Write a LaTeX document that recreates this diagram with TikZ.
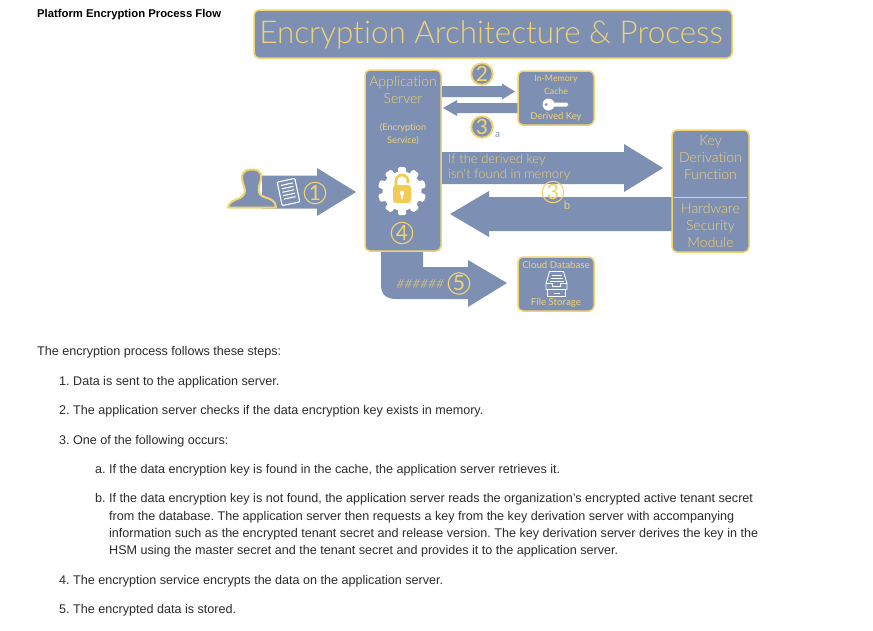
\documentclass[tikz,border=0pt]{standalone}
\usepackage{fontspec}
\setmainfont{Liberation Sans}
\newfontfamily\dfont[Ligatures=NoCommon]{Lato Light}
\newfontfamily\dreg[Ligatures=NoCommon]{Lato}
\definecolor{bluefill}{HTML}{7E8FB4}
\definecolor{goldline}{HTML}{F3D36B}
\definecolor{goldtext}{HTML}{EFD272}
\definecolor{lockgold}{HTML}{F2CB55}
\definecolor{bodytext}{HTML}{2B2B2B}
\newcommand{\rightarrowshape}[7]{% x0,tip,base,cy,bodyhalf,headhalf,name
  \fill[bluefill] (#1,#4-#5) -- (#3,#4-#5) -- (#3,#4-#6) -- (#2,#4) -- (#3,#4+#6) -- (#3,#4+#5) -- (#1,#4+#5) -- cycle;
  \coordinate (#7) at (#2,#4);}
\tikzset{
  x=1pt,y=-1pt,
  panel/.style={draw=goldline,line width=1.5pt,fill=bluefill,rounded corners=5pt},
  lab/.style={font=\dfont,text=goldtext,align=center,inner sep=0pt},
  numring/.style={circle,draw=goldline,line width=1.8pt,fill=bluefill,minimum size=21.5pt,inner sep=0pt,font=\dreg\fontsize{21}{21}\selectfont,text=goldline},
  thinring/.style={numring,fill=none,line width=1.1pt},
  bodyline/.style={anchor=base west,inner sep=0pt,font=\frenchspacing\fontsize{12.58}{12.58}\selectfont,text=bodytext},
}
\begin{document}
\begin{tikzpicture}
\useasboundingbox (0,0) rectangle (873,630);
% title
\draw[panel] (254,10) rectangle (732,58);
\node[lab,font=\dfont\fontsize{31.4}{33}\selectfont] (title) at (491,35) {Encryption Architecture \& Process};
% arrows
\rightarrowshape{441}{515}{502}{91.5}{5.5}{8}{tipb}
\fill[bluefill] (519,103) -- (457,103) -- (457,100) -- (443,108) -- (457,116) -- (457,113) -- (519,113) -- cycle;
\rightarrowshape{441}{663}{624}{168}{16}{24}{tipc}
\fill[bluefill] (673,197) -- (489,197) -- (489,191) -- (450,214) -- (489,237) -- (489,231) -- (673,231) -- cycle;
\rightarrowshape{262}{356}{317}{192}{16.5}{24}{tipa}
\fill[bluefill] (381,250) -- (381,285) .. controls (381,295) and (387,299) .. (396,299) -- (468,299) -- (468,307) -- (507,283) -- (468,260) -- (468,267) -- (423,267) -- (423,250) -- cycle;
% boxes
\draw[panel] (365,70) rectangle (441,251);
\draw[panel] (518,71) rectangle (594,125);
\draw[panel] (672,130) rectangle (749,252);
\draw[goldline,line width=1pt] (674,197) -- (747,197);
\draw[panel] (518,257) rectangle (594,311);
% app server text
\node[lab,font=\dfont\fontsize{14}{17}\selectfont] (appname) at (403,89.5) {Application\\Server};
\node[lab,font=\dreg\fontsize{9.2}{13}\selectfont] (appsub) at (403,134.5) {(Encryption\\Service)};
% cache text
\node[lab,font=\dreg\fontsize{8.8}{12.5}\selectfont] (cachet) at (556,85) {In-Memory\\Cache};
\node[lab,font=\dreg\fontsize{9.5}{10}\selectfont] (cachek) at (556,117) {Derived Key};
% key icon
\fill[white] (548.5,104.5) circle (6);
\fill[white,rounded corners=1.5pt] (551,102.5) rectangle (568,106.5);
\fill[bluefill] (546,104.5) circle (1.5);
% KDF text
\node[lab,font=\dfont\fontsize{14}{17}\selectfont] (kdf) at (710.5,157.5) {Key\\Derivation\\Function};
\node[lab,font=\dfont\fontsize{14}{17}\selectfont] (hsm) at (710.5,225) {Hardware\\Security\\Module};
% DB text
\node[lab,font=\dreg\fontsize{9.7}{10}\selectfont] (dbt) at (556,265) {Cloud Database};
\node[lab,font=\dreg\fontsize{9.7}{10}\selectfont] (dbf) at (556,303) {File Storage};
% inbox icon
\begin{scope}[shift={(556.5,283.5)}]
\draw[white,line width=.9pt,line join=round,fill=bluefill] (-7,-12) -- (7,-12) -- (10.5,0) -- (10.5,6) -- (-10.5,6) -- (-10.5,0) -- cycle;
\draw[white,line width=.9pt,fill=bluefill] (-9,6) rectangle (9,12.5);
\draw[white,line width=.9pt] (-10.5,0) -- (-4,0) -- (-4,3) -- (4,3) -- (4,0) -- (10.5,0);
\draw[white,line width=.9pt] (-5,-8.5) -- (5,-8.5) (-6,-5.5) -- (6,-5.5) (-7,-2.5) -- (7,-2.5);
\draw[white,line width=.9pt] (-3,9.5) -- (3,9.5);
\end{scope}
% arrow text
\node[lab,anchor=west,font=\dfont\fontsize{13}{15}\selectfont,align=left] (miss) at (448,167) {If the derived key\\isn't found in memory};
\node[lab,font=\dfont\fontsize{13}{13}\selectfont] (hash) at (419.5,283.5) {\addfontfeature{FakeSlant=0.2,LetterSpace=3}\#\#\#\#\#\#};
% person
\draw[goldline,line width=2pt,fill=bluefill,line join=round] (244,186) .. controls (240,175) and (242,169.5) .. (252,169.5) .. controls (262,169.5) and (263,175) .. (259,186) .. controls (258,192) and (259,195) .. (264,197) .. controls (271,199) and (276,201) .. (276,207.5) -- (228,207.5) .. controls (228,203) and (234,200) .. (240,198) .. controls (245,195) and (246,192) .. (244,186) -- cycle;
% document icon
\begin{scope}[shift={(288.5,192)},rotate=12]
\draw[white,line width=1.1pt,fill=bluefill,rounded corners=1pt] (-9,-12) rectangle (9,12);
\foreach \yy in {-8,-4.5,-1,2.5,6}{\draw[white,line width=1.1pt] (-6,\yy) -- (6,\yy);}
\end{scope}
% gear
\begin{scope}[shift={(402,191)}]
\fill[white] (0,0) circle (19.5);
\foreach \a in {0,36,...,324}{\fill[white,rotate=\a,rounded corners=1.5pt] (-4,-17) rectangle (4,-24);}
\fill[lockgold,rounded corners=3pt] (-9,-6) rectangle (9,12);
\draw[lockgold,line width=2.6pt] (-6,-5) -- (-6,-10) arc[start angle=180,end angle=0,x radius=6,y radius=-6] -- (6,-8);
\fill[white] (0,2) circle (2.3);
\fill[white] (-1,2) rectangle (1,8);
\end{scope}
% number rings
\node[thinring] (n1) at (315,193) {1};
\node[numring] (n2) at (482,74) {2};
\node[numring] (n3a) at (482,127) {3};
\node[lab,text=bluefill,font=\dreg\fontsize{10}{10}\selectfont] (a) at (497.5,135) {a};
\node[thinring] (n3b) at (553,192) {3};
\node[lab,font=\dreg\fontsize{11.5}{12}\selectfont] (b) at (567,205) {b};
\node[thinring] (n4) at (402,233) {4};
\node[thinring] (n5) at (459,283.5) {5};
% heading and text
\node[bodyline,font=\bfseries\fontsize{11.3}{11}\selectfont,text=black] (head) at (37,17) {Platform Encryption Process Flow};
\node[bodyline] (t0) at (37,355) {The encryption process follows these steps:};
\node[bodyline] (t1) at (59,385) {1. Data is sent to the application server.};
\node[bodyline] (t2) at (59,414) {2. The application server checks if the data encryption key exists in memory.};
\node[bodyline] (t3) at (59,444) {3. One of the following occurs:};
\node[bodyline] (t4) at (95,473) {a. If the data encryption key is found in the cache, the application server retrieves it.};
\node[bodyline] (t5) at (95,502) {b. If the data encryption key is not found, the application server reads the organization's encrypted active tenant secret};
\node[bodyline] (t6) at (109,520) {from the database. The application server then requests a key from the key derivation server with accompanying};
\node[bodyline] (t7) at (109,537) {information such as the encrypted tenant secret and release version. The key derivation server derives the key in the};
\node[bodyline] (t8) at (109,554) {HSM using the master secret and the tenant secret and provides it to the application server.};
\node[bodyline] (t9) at (59,584) {4. The encryption service encrypts the data on the application server.};
\node[bodyline] (t10) at (59,613) {5. The encrypted data is stored.};
\end{tikzpicture}
\end{document}
